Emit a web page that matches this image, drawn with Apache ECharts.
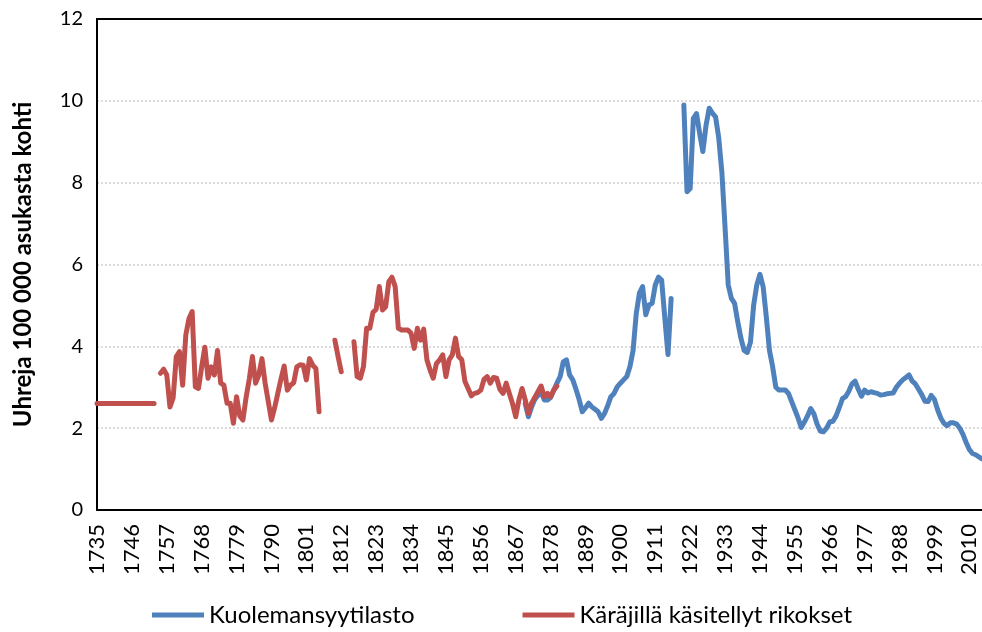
<!DOCTYPE html>
<html>
<head>
<meta charset="utf-8">
<script src="https://cdn.jsdelivr.net/npm/echarts@6/dist/echarts.min.js"></script>
<style>
  html, body { margin: 0; padding: 0; background: #fff; }
  #chart { width: 982px; height: 632px; }
</style>
</head>
<body>
<div id="chart"></div>
<script>
// vuodet 1735-2014, joka 11. nimike näkyy akselilla
const firstYear = 1735;
const lastYear = 2014;

// Käräjillä käsitellyt rikokset, alkaen 1735 (null = ei tietoa)
const redStart = 1735;
const redValues = [
  2.6, 2.6, 2.6, 2.6, 2.6, 2.6, 2.6, 2.6, 2.6, 2.6,
  2.6, 2.6, 2.6, 2.6, 2.6, 2.6, 2.6, 2.6, 2.6, null,
  3.34, 3.44, 3.3, 2.52, 2.74, 3.75, 3.87, 3.05, 4.28, 4.68,
  4.85, 3.01, 2.97, 3.5, 3.98, 3.22, 3.5, 3.3, 3.9, 3.1,
  3.05, 2.61, 2.61, 2.12, 2.77, 2.3, 2.2, 2.75, 3.2, 3.75,
  3.1, 3.3, 3.7, 3.1, 2.65, 2.2, 2.5, 2.85, 3.2, 3.52,
  2.93, 3.05, 3.11, 3.5, 3.55, 3.54, 3.18, 3.7, 3.54, 3.46,
  2.4, null, null, null, null, 4.15, 3.75, 3.38, null, null,
  null, 4.11, 3.26, 3.22, 3.5, 4.44, 4.44, 4.83, 4.9, 5.46,
  4.89, 4.97, 5.58, 5.69, 5.46, 4.44, 4.4, 4.4, 4.4, 4.32,
  3.95, 4.44, 4.15, 4.42, 3.67, 3.42, 3.22, 3.58, 3.67, 3.79,
  3.26, 3.67, 3.79, 4.2, 3.75, 3.67, 3.14, 2.97, 2.79, 2.85,
  2.87, 2.93, 3.19, 3.26, 3.1, 3.24, 3.22, 2.95, 2.85, 3.1,
  2.85, 2.6, 2.28, 2.69, 2.97, 2.69, 2.36, 2.61, 2.75, 2.89,
  3.03, 2.77, 2.85, 2.77, 2.93, 3.03
];

// Kuolemansyytilasto, alkaen 1870
const blueStart = 1870;
const blueValues = [
  2.6, 2.28, 2.52, 2.7, 2.8, 2.89, 2.69, 2.69, 2.75, 2.93,
  3.1, 3.26, 3.62, 3.67, 3.3, 3.18, 2.95, 2.7, 2.4, 2.5,
  2.61, 2.52, 2.46, 2.4, 2.24, 2.36, 2.55, 2.77, 2.85, 3.01,
  3.1, 3.18, 3.26, 3.5, 3.9, 4.8, 5.3, 5.46, 4.77, 5.01,
  5.05, 5.5, 5.69, 5.62, 4.7, 3.8, 5.17, null, null, null,
  9.9, 7.78, 7.86, 9.57, 9.69, 9.2, 8.76, 9.4, 9.82, 9.7,
  9.61, 9.1, 8.25, 6.9, 5.5, 5.17, 5.05, 4.6, 4.2, 3.9,
  3.85, 4.1, 5.0, 5.5, 5.76, 5.46, 4.72, 3.9, 3.5, 3.0,
  2.93, 2.93, 2.93, 2.85, 2.65, 2.45, 2.25, 2.02, 2.15, 2.3,
  2.48, 2.35, 2.1, 1.93, 1.91, 2.0, 2.15, 2.17, 2.3, 2.5,
  2.72, 2.77, 2.9, 3.08, 3.15, 2.95, 2.78, 2.93, 2.86, 2.89,
  2.87, 2.85, 2.81, 2.82, 2.84, 2.85, 2.86, 3.0, 3.1, 3.18,
  3.24, 3.3, 3.15, 3.08, 2.95, 2.82, 2.66, 2.65, 2.8, 2.7,
  2.45, 2.25, 2.12, 2.06, 2.13, 2.13, 2.1, 2.0, 1.85, 1.65,
  1.48, 1.38, 1.35, 1.3, 1.25
];

const seriesNames = ['Kuolemansyytilasto', 'Käräjillä käsitellyt rikokset'];
const yTicks = [0, 2, 4, 6, 8, 10, 12];
const yName = 'Uhreja 100 000 asukasta kohti';

const years = [];
for (let y = firstYear; y <= lastYear; y++) years.push(String(y));

// sovitetaan sarja koko vuosiakselille
function alignToYears(start, values) {
  return years.map((y) => {
    const i = Number(y) - start;
    return i >= 0 && i < values.length ? values[i] : null;
  });
}

const chart = echarts.init(document.getElementById('chart'));
const font = 'Lato, "Open Sans", sans-serif';

const option = {
  animation: false,
  grid: { left: 97, right: 0, top: 19, bottom: 122 },
  legend: {
    data: seriesNames,
    left: 147,
    top: 598,
    icon: 'rect',
    itemWidth: 52,
    itemHeight: 5,
    itemGap: 108,
    textStyle: { fontFamily: font, fontSize: 24, color: '#000' },
  },
  xAxis: [
    {
      type: 'category',
      data: years,
      boundaryGap: false,
      axisLine: { lineStyle: { color: '#000', width: 2 } },
      axisTick: { show: false },
      axisLabel: {
        interval: 10,
        rotate: 90,
        margin: 14,
        fontFamily: font,
        fontSize: 22,
        color: '#000',
      },
      splitLine: { show: false },
    },
    {
      type: 'category',
      data: years,
      position: 'top',
      boundaryGap: false,
      axisLine: { lineStyle: { color: '#000', width: 2 } },
      axisTick: { show: false },
      axisLabel: { show: false },
    },
  ],
  yAxis: {
    type: 'value',
    min: yTicks[0],
    max: yTicks[yTicks.length - 1],
    interval: 2,
    name: yName,
    nameLocation: 'middle',
    nameGap: 62,
    nameTextStyle: { fontFamily: font, fontSize: 24, fontWeight: 'bold', color: '#000' },
    axisLine: { show: true, lineStyle: { color: '#000', width: 2 } },
    axisTick: { show: false },
    axisLabel: { margin: 14, fontFamily: font, fontSize: 20, color: '#000' },
    splitLine: {
      show: true,
      lineStyle: { color: '#d0d0d0', width: 1.5, type: [2, 2] },
    },
  },
  series: [
    {
      name: seriesNames[0],
      type: 'line',
      data: alignToYears(blueStart, blueValues),
      showSymbol: false,
      connectNulls: false,
      itemStyle: { color: '#4F81BD' },
      lineStyle: { color: '#4F81BD', width: 5, cap: 'round', join: 'round' },
    },
    {
      name: seriesNames[1],
      type: 'line',
      data: alignToYears(redStart, redValues),
      showSymbol: false,
      connectNulls: false,
      itemStyle: { color: '#C0504D' },
      lineStyle: { color: '#C0504D', width: 5, cap: 'round', join: 'round' },
    },
  ],
};

chart.setOption(option);
</script>
</body>
</html>
